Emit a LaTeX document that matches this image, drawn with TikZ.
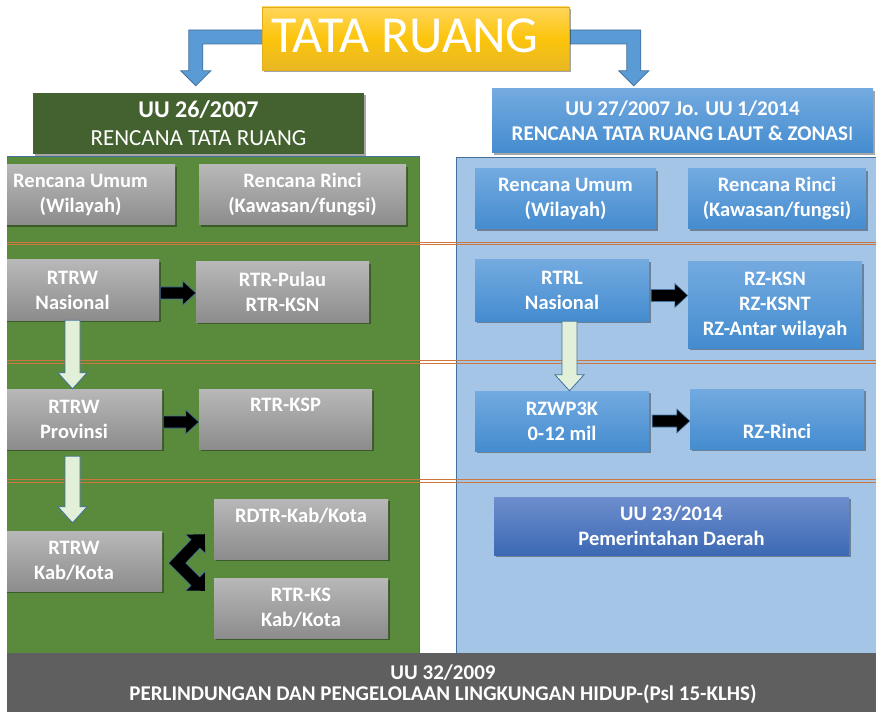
\documentclass[tikz,border=0pt]{standalone}
\usepackage{fontspec}
\setmainfont{Carlito}
\usetikzlibrary{calc,shadows,arrows.meta,backgrounds}
\definecolor{greyT}{RGB}{184,184,184}
\definecolor{greyB}{RGB}{140,140,140}
\definecolor{blueT}{RGB}{115,170,224}
\definecolor{blueB}{RGB}{68,140,207}
\definecolor{deepT}{RGB}{110,142,205}
\definecolor{deepB}{RGB}{60,105,180}
\definecolor{panelG}{RGB}{90,139,60}
\definecolor{headG}{RGB}{68,98,47}
\definecolor{panelB}{RGB}{165,197,230}
\definecolor{edgeB}{RGB}{65,113,156}
\definecolor{arrowB}{RGB}{91,155,213}
\definecolor{lightG}{RGB}{226,240,217}
\definecolor{sepO}{RGB}{205,118,62}
\definecolor{barG}{RGB}{94,95,94}
\definecolor{yelT}{RGB}{255,214,90}
\definecolor{yelM}{RGB}{252,196,12}
\definecolor{yelB}{RGB}{232,184,36}
\definecolor{yelE}{RGB}{225,172,30}

\tikzset{
  lab/.style={font=\fontsize{20.5}{25}\selectfont\bfseries, text=white, align=center},
  boxbase/.style={rectangle, inner sep=0pt, drop shadow={opacity=0.35, fill=black, shadow xshift=1.5pt, shadow yshift=-2pt}},
  gbox/.style={boxbase, lab, top color=greyT, bottom color=greyB},
  bbox/.style={boxbase, lab, top color=blueT, bottom color=blueB},
  dbox/.style={boxbase, lab, top color=deepT, bottom color=deepB},
  blockarrow/.style={fill=black, draw=edgeB, line width=0.6pt, line join=miter},
  lightarrow/.style={fill=lightG, draw=edgeB, line width=0.8pt},
  bentarrow/.style={fill=arrowB, draw=edgeB, line width=0.8pt},
  sepline/.style={draw=sepO, line width=0.9pt},
}

\newcommand\rightblock[3]{%
  \path[blockarrow] let \p1=($(#1.east)+#3$), \p2=(#2.west) in
   (\x1,\y1+6pt) -- (\x2-13pt,\y1+6pt) -- (\x2-13pt,\y1+12pt) -- (\x2,\y1)
   -- (\x2-13pt,\y1-12pt) -- (\x2-13pt,\y1-6pt) -- (\x1,\y1-6pt) -- cycle;}
\newcommand\lightdown[2]{%
  \path[lightarrow] let \p1=(#1), \p2=(#2) in
   (\x1-7.5pt,\y1) -- (\x1-7.5pt,\y2+16pt) -- (\x1-14.5pt,\y2+16pt) -- (\x1,\y2)
   -- (\x1+14.5pt,\y2+16pt) -- (\x1+7.5pt,\y2+16pt) -- (\x1+7.5pt,\y1) -- cycle;}

\begin{document}
\begin{tikzpicture}[x=1pt,y=-1pt]
\useasboundingbox (0,0) rectangle (876,714);
\begin{scope}
\clip (7,0) rectangle (876,714);

% panels
\fill[panelG] (-14,156) rectangle (419,653);
\draw[edgeB, line width=0.6pt] (-14,156) -- (419,156) -- (419,653);
\filldraw[fill=panelB, draw=edgeB, line width=0.8pt] (456,157) rectangle (880,653);

% separators
\foreach \yy in {243.5,362,481}{
  \draw[sepline] (7,\yy-1.4) -- (876,\yy-1.4);
  \draw[sepline] (7,\yy+1.4) -- (876,\yy+1.4);
}

% title
\node[boxbase, top color=yelT, bottom color=yelB, middle color=yelM, draw=yelE, line width=0.5pt,
      minimum width=307, minimum height=63] (tata) at (415.5,38.5) {};
\node[font=\fontsize{52}{52}\selectfont, text=white, anchor=base, inner sep=0pt] (tataT) at (405,53) {TATA RUANG};

% headers
\node[boxbase, fill=headG, minimum width=331, minimum height=61, text=white, align=center,
      font=\fontsize{23}{28}\selectfont] (hL) at (198.5,123.5)
      {{\fontsize{24}{28}\selectfont\bfseries UU 26/2007}\\RENCANA TATA RUANG};
\node[boxbase, top color=blueT, bottom color=blueB, minimum width=381, minimum height=64, text=white, align=center,
      font=\fontsize{21}{25}\selectfont\bfseries] (hR) at (682.5,121)
      {UU 27/2007 Jo. UU 1/2014\\RENCANA TATA RUANG LAUT \& ZONAS{\mdseries I}};

% left column
\node[gbox, minimum width=189, minimum height=60] (gU) at (80.5,195) {Rencana Umum\\(Wilayah)};
\node[gbox, minimum width=207, minimum height=60] (gR) at (302.5,195) {Rencana Rinci\\(Kawasan/fungsi)};
\node[gbox, minimum width=173, minimum height=60] (nas) at (72.5,290) {RTRW\\Nasional};
\node[gbox, minimum width=173, minimum height=60] (pul) at (282.5,292) {RTR-Pulau\\RTR-KSN};
\node[gbox, minimum width=176, minimum height=60] (prov) at (74,419) {RTRW\\Provinsi};
\node[gbox, minimum width=173, minimum height=60] (ksp) at (285.5,419) {RTR-KSP\\\phantom{Kp}};
\node[gbox, minimum width=176, minimum height=60] (kab) at (74,561) {RTRW\\Kab/Kota};
\node[gbox, minimum width=174, minimum height=60] (rdtr) at (301,529) {RDTR-Kab/Kota\\\phantom{Kp}};
\node[gbox, minimum width=174, minimum height=60] (rtrks) at (301,608) {RTR-KS\\Kab/Kota};

% right column
\node[bbox, minimum width=181, minimum height=60] (bU) at (565.5,199) {Rencana Umum\\(Wilayah)};
\node[bbox, minimum width=178, minimum height=60] (bR) at (777,199) {Rencana Rinci\\(Kawasan/fungsi)};
\node[bbox, minimum width=174, minimum height=61] (rtrl) at (562,290.5) {RTRL\\Nasional};
\node[bbox, minimum width=174, minimum height=86] (rzksn) at (775,305) {RZ-KSN\\RZ-KSNT\\RZ-Antar wilayah};
\node[bbox, minimum width=174, minimum height=60] (rzwp) at (562,421) {RZWP3K\\0-12 mil};
\node[bbox, minimum width=174, minimum height=60] (rzr) at (777,419) {\phantom{Kp}\\RZ-Rinci};
\node[dbox, minimum width=355, minimum height=58] (uu23) at (671.5,526) {UU 23/2014\\Pemerintahan Daerah};

% black block arrows
\rightblock{nas}{pul}{(1,3)}
\rightblock{prov}{ksp}{(1,3)}
\rightblock{rtrl}{rzksn}{(2,5)}
\rightblock{rzwp}{rzr}{(3,0)}

% light down arrows
\lightdown{nas.south}{prov.north}
\lightdown{$(prov.south)+(-1.5,7)$}{$(kab.north)+(0,-8)$}
\lightdown{$(rtrl.south)+(7.5,0)$}{rzwp.north}

% chevron double arrow
\coordinate (vx) at ($(kab.east)+(15,2)$);
\coordinate (tU) at ($(rdtr.south west)+(-9,-25)$);
\coordinate (tD) at ($(rtrks.north west)+(-9,13)$);
\draw[line width=12.8pt, edgeB, line join=miter,
      {Triangle[length=14pt,width=27pt]}-{Triangle[length=14pt,width=27pt]}] (tU) -- (vx) -- (tD);
\draw[line width=11.4pt, black, line join=miter,
      {Triangle[length=13pt,width=25pt]}-{Triangle[length=13pt,width=25pt]}] (tU) -- (vx) -- (tD);

% bottom bar
\node[fill=barG, minimum width=890, minimum height=59, inner sep=0pt] (bar) at (441.5,682.5) {};
\node[text=white, align=center, inner sep=0pt, font=\fontsize{21}{21.5}\selectfont\bfseries] (barT) at (443,684)
  {UU 32/2009\\PERLINDUNGAN DAN PENGELOLAAN LINGKUNGAN HIDUP-(Psl 15-KLHS)};
\end{scope}

% bent blue arrows from title
\begin{scope}[on background layer]
\path[bentarrow] let \p1=($(tata.west)+(6,-1.5)$), \p2=($(hL.north west)+(163,-7)$) in
  (\x1,\y1+7pt) -- (\x2-7pt,\y1+7pt) -- (\x2-7pt,\y2+15pt) -- (\x2-15pt,\y2+15pt) -- (\x2,\y2)
  -- (\x2+15pt,\y2+15pt) -- (\x2+7pt,\y2+15pt) -- (\x2+7pt,\y1-7pt) -- (\x1,\y1-7pt) -- cycle;
\path[bentarrow] let \p1=($(tata.east)+(-6,-1.5)$), \p2=($(hR.north west)+(142,-3)$) in
  (\x1,\y1+7pt) -- (\x2+7pt,\y1+7pt) -- (\x2+7pt,\y2+15pt) -- (\x2+15pt,\y2+15pt) -- (\x2,\y2)
  -- (\x2-15pt,\y2+15pt) -- (\x2-7pt,\y2+15pt) -- (\x2-7pt,\y1-7pt) -- (\x1,\y1-7pt) -- cycle;
\end{scope}
\end{tikzpicture}
\end{document}
